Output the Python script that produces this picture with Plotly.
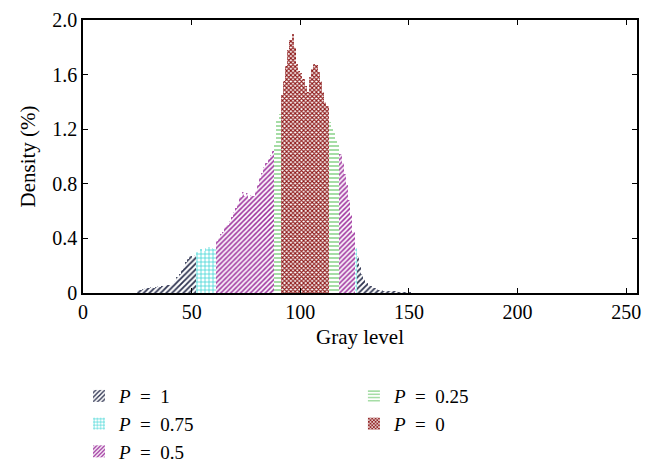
import plotly.graph_objects as go

# ---- data ----
gray_start = 25
density = [
    # 25-51
    0.02, 0.025, 0.03, 0.035, 0.04, 0.04, 0.045, 0.04, 0.045, 0.05,
    0.045, 0.05, 0.05, 0.055, 0.06, 0.06, 0.07, 0.09, 0.12, 0.14,
    0.17, 0.20, 0.23, 0.25, 0.27, 0.26, 0.28,
    # 52-60
    0.30, 0.31, 0.32, 0.31, 0.33, 0.34, 0.34, 0.33, 0.32,
    # 61-87
    0.38, 0.40, 0.43, 0.45, 0.48, 0.50, 0.53, 0.56, 0.59, 0.62,
    0.65, 0.70, 0.74, 0.71, 0.73, 0.69, 0.72, 0.71, 0.75, 0.79,
    0.84, 0.88, 0.92, 0.95, 0.98, 1.01, 1.04,
    # 88-90
    1.10, 1.27, 1.31,
    # 91-112
    1.45, 1.55, 1.66, 1.78, 1.85, 1.90, 1.80, 1.68, 1.63, 1.61,
    1.57, 1.52, 1.47, 1.58, 1.64, 1.68, 1.67, 1.62, 1.55, 1.47,
    1.40, 1.37,
    # 113-117
    1.25, 1.21, 1.17, 1.13, 1.09,
    # 118-124
    1.02, 0.95, 0.87, 0.79, 0.68, 0.57, 0.45,
    # 125
    0.33,
    # 126-150
    0.27, 0.19, 0.14, 0.10, 0.075, 0.06, 0.05, 0.04, 0.035, 0.03,
    0.025, 0.02, 0.018, 0.015, 0.013, 0.012, 0.01, 0.01, 0.008, 0.007,
    0.006, 0.005, 0.004, 0.003, 0.003,
]

p_values = ["1", "0.75", "0.5", "0.25", "0"]
legend_labels = ["<i>P</i>\u2002=\u2002" + p for p in p_values]
seg_p1 = [(25, 51), (126, 150)]
seg_p075 = [(52, 60), (125, 125)]
seg_p05 = [(61, 87), (118, 124)]
seg_p025 = [(88, 90), (113, 117)]
seg_p0 = [(91, 112)]
segments = [seg_p1, seg_p075, seg_p05, seg_p025, seg_p0]

x_ticks = [0, 50, 100, 150, 200, 250]
y_ticks = [0, 0.4, 0.8, 1.2, 1.6, 2.0]
y_ticktext = ["0", "0.4", "0.8", "1.2", "1.6", "2.0"]

# ---- styles ----
colors = ["#2e3350", "#3fd6d6", "#9a2a9a", "#7fcf7f", "#8e1a1a"]
shapes = ["/", "+", "/", "-", "x"]
sizes = [4, 4, 3.5, 4, 3]
solid = [0.45, 0.35, 0.45, 0.35, 0.6]
legend_ids = ["legend", "legend", "legend", "legend2", "legend2"]

FONT = "Liberation Serif, Times New Roman, serif"

fig = go.Figure()
for i, segs in enumerate(segments):
    xs, ys = [], []
    for lo, hi in segs:
        for g in range(lo, hi + 1):
            xs.append(g + 0.5)
            ys.append(density[g - gray_start])
    fig.add_trace(go.Bar(
        x=xs, y=ys, width=1, name=legend_labels[i],
        legend=legend_ids[i],
        marker=dict(
            color=colors[i],
            line=dict(width=0),
            pattern=dict(shape=shapes[i], fgcolor=colors[i], bgcolor="white",
                         size=sizes[i], solidity=solid[i], fillmode="replace"),
        ),
    ))

axis_common = dict(
    showline=True, linecolor="black", linewidth=1.5, mirror="ticks",
    ticks="inside", ticklen=5, tickcolor="black", tickwidth=1.2,
    showgrid=False, zeroline=False, automargin=False,
    tickfont=dict(family=FONT, size=20, color="black"),
)

# page body adds an 8px offset, so the figure is 8px smaller than the window
fig.update_layout(
    width=645, height=462,
    margin=dict(l=75, r=16, t=12, b=177, autoexpand=False),
    paper_bgcolor="white", plot_bgcolor="white",
    bargap=0, barmode="overlay",
    font=dict(family=FONT, size=20, color="black"),
    xaxis=dict(range=[0, 255], tickvals=x_ticks,
               title=dict(text="Gray level", font=dict(family=FONT, size=21), standoff=8),
               **axis_common),
    yaxis=dict(range=[0, 2.0], tickvals=y_ticks, ticktext=y_ticktext,
               title=dict(text="Density (%)", font=dict(family=FONT, size=21), standoff=11),
               **axis_common),
    legend=dict(x=-0.0072, y=-0.308, xanchor="left", yanchor="top",
                orientation="v", tracegroupgap=0,
                font=dict(family=FONT, size=19), bgcolor="rgba(0,0,0,0)"),
    legend2=dict(x=0.489, y=-0.308, xanchor="left", yanchor="top",
                 orientation="v", tracegroupgap=0,
                 font=dict(family=FONT, size=19), bgcolor="rgba(0,0,0,0)"),
)

fig.write_html("out.html")
